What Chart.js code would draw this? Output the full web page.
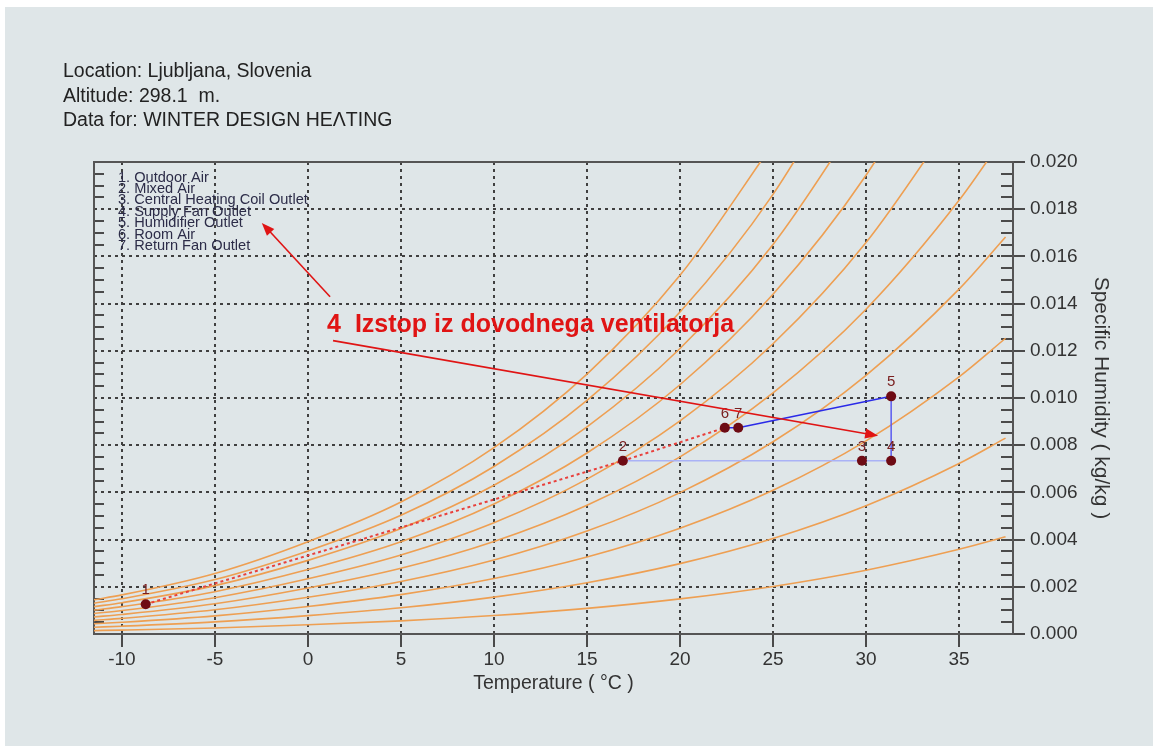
<!DOCTYPE html>
<html>
<head>
<meta charset="utf-8">
<title>Psychrometric chart - Ljubljana</title>
<script src="https://cdn.jsdelivr.net/npm/chart.js@4.4.0/dist/chart.umd.min.js"></script>
<style>
    html, body { margin: 0; padding: 0; background: #ffffff; }
    #chart { position: absolute; left: 0; top: 0; }
</style>
</head>
<body>
<canvas id="chart" width="1155" height="746"></canvas>
<script>
// Header lines above the plot
const headerLines = [
    'Location: Ljubljana, Slovenia',
    'Altitude: 298.1  m.',
    'Data for: WINTER DESIGN HE\u039BTING'
];

// Axis ticks
const tempTicks = [-10, -5, 0, 5, 10, 15, 20, 25, 30, 35];
const humTicks = [0, 0.002, 0.004, 0.006, 0.008, 0.010, 0.012, 0.014, 0.016, 0.018, 0.020];

// Relative humidity curves (10% ... 100%), specific humidity read at these temperatures
const curveTemps = [-11.5, -10, -5, 0, 5, 10, 15, 20, 25, 30, 35, 37.5];
const rh10 = [0.000145, 0.000166, 0.000256, 0.00039, 0.000555, 0.000781, 0.001084, 0.001487, 0.002016, 0.002704, 0.00359, 0.004122];
const rh20 = [0.000289, 0.000331, 0.000513, 0.00078, 0.001111, 0.001563, 0.002172, 0.002981, 0.004046, 0.005432, 0.007222, 0.008299];
const rh30 = [0.000434, 0.000497, 0.000769, 0.001167, 0.001668, 0.002348, 0.003264, 0.004482, 0.006088, 0.008184, 0.010896, 0.012532];
const rh40 = [0.000579, 0.000663, 0.001025, 0.001557, 0.002226, 0.003135, 0.00436, 0.005991, 0.008144, 0.01096, 0.014614, 0.016822];
const rh50 = [0.000724, 0.000829, 0.001281, 0.00195, 0.002785, 0.003923, 0.005459, 0.007507, 0.010214, 0.013761, 0.018375, 0.021171];
const rh60 = [0.000869, 0.000994, 0.001538, 0.002338, 0.003345, 0.004714, 0.006562, 0.00903, 0.012297, 0.016587, 0.022181];
const rh70 = [0.001014, 0.00116, 0.001794, 0.002729, 0.003906, 0.005506, 0.007669, 0.010561, 0.014394, 0.019438, 0.026033];
const rh80 = [0.001159, 0.001326, 0.00205, 0.00312, 0.004468, 0.006301, 0.00878, 0.012099, 0.016504, 0.022314];
const rh90 = [0.001304, 0.001491, 0.002307, 0.00352, 0.00503, 0.007098, 0.009896, 0.013644, 0.018629, 0.025216];
const rh100 = [0.001449, 0.001657, 0.002565, 0.003912, 0.005594, 0.007896, 0.011014, 0.015197, 0.020769];
const rhCurves = [rh10, rh20, rh30, rh40, rh50, rh60, rh70, rh80, rh90, rh100];

// Air states 1..7
const stateLabels = ['1', '2', '3', '4', '5', '6', '7'];
const stateTemp = [-8.72, 16.93, 29.78, 31.35, 31.35, 22.41, 23.13];
const stateHum = [0.00126, 0.00734, 0.00734, 0.00734, 0.01007, 0.00874, 0.00874];
const stateNames = [
    '1. Outdoor Air',
    '2. Mixed Air',
    '3. Central Heating Coil Outlet',
    '4. Supply Fan Outlet',
    '5. Humidifier Outlet',
    '6. Room Air',
    '7. Return Fan Outlet'
];

// Process paths (indices into the states)
const mixingPath = [0, 1, 5];
const heatingPath = [1, 2, 3];
const humidifierPath = [3, 4];
const roomPath = [4, 6];
const returnPath = [6, 5];

// Red annotation (data coordinates)
const noteText = '4  Izstop iz dovodnega ventilatorja';
const notePos = [1.03, 0.01281];
const noteArrows = [
    [[1.19, 0.01429], [-2.48, 0.01742]],
    [[1.35, 0.01243], [30.65, 0.0084]]
];

const FONT = "'Liberation Sans', Arial, sans-serif";

function pathData(path) {
    return path.map(i => ({ x: stateTemp[i], y: stateHum[i] }));
}

function drawArrow(ctx, x1, y1, x2, y2) {
    const a = Math.atan2(y2 - y1, x2 - x1);
    const len = 13, half = 5;
    ctx.beginPath();
    ctx.moveTo(x1, y1);
    ctx.lineTo(x2 - len * 0.7 * Math.cos(a), y2 - len * 0.7 * Math.sin(a));
    ctx.stroke();
    ctx.beginPath();
    ctx.moveTo(x2, y2);
    ctx.lineTo(x2 - len * Math.cos(a) + half * Math.sin(a), y2 - len * Math.sin(a) - half * Math.cos(a));
    ctx.lineTo(x2 - len * Math.cos(a) - half * Math.sin(a), y2 - len * Math.sin(a) + half * Math.cos(a));
    ctx.closePath();
    ctx.fill();
}

const backgroundPlugin = {
    id: 'panelBackground',
    beforeDraw(chart) {
        const ctx = chart.ctx;
        ctx.save();
        ctx.fillStyle = '#ffffff';
        ctx.fillRect(0, 0, chart.width, chart.height);
        ctx.fillStyle = '#dfe6e8';
        ctx.fillRect(5, 7, 1148, 739);

        ctx.fillStyle = '#222222';
        ctx.font = '19.5px ' + FONT;
        ctx.textBaseline = 'alphabetic';
        headerLines.forEach((t, i) => ctx.fillText(t, 63, 77 + i * 24.5));
        ctx.restore();
    }
};

// Dotted grid, frame and tick marks
const gridPlugin = {
    id: 'psychroGrid',
    beforeDatasetsDraw(chart) {
        const { ctx, chartArea: area, scales: { x, y } } = chart;
        ctx.save();
        ctx.strokeStyle = '#404040';
        ctx.lineWidth = 2;
        ctx.setLineDash([3, 4]);
        tempTicks.forEach(t => {
            const px = Math.round(x.getPixelForValue(t));
            ctx.beginPath();
            ctx.moveTo(px, area.top);
            ctx.lineTo(px, area.bottom);
            ctx.stroke();
        });
        humTicks.slice(1, -1).forEach(h => {
            const py = Math.round(y.getPixelForValue(h));
            ctx.beginPath();
            ctx.moveTo(area.left, py);
            ctx.lineTo(area.right, py);
            ctx.stroke();
        });
        ctx.setLineDash([]);

        // minor ticks every 0.0005 on both vertical axes
        ctx.strokeStyle = '#4a4a4a';
        for (let k = 0; k <= 40; k++) {
            const py = Math.round(y.getPixelForValue(k * 0.0005));
            if (k % 4 !== 0) {
                ctx.beginPath();
                ctx.moveTo(area.left, py);
                ctx.lineTo(area.left + 10, py);
                ctx.moveTo(area.right - 12, py);
                ctx.lineTo(area.right, py);
                ctx.stroke();
            } else {
                ctx.beginPath();
                ctx.moveTo(area.right - 12, py);
                ctx.lineTo(area.right + 12, py);
                ctx.stroke();
            }
        }
        // bottom ticks
        tempTicks.forEach(t => {
            const px = Math.round(x.getPixelForValue(t));
            ctx.beginPath();
            ctx.moveTo(px, area.bottom);
            ctx.lineTo(px, area.bottom + 13);
            ctx.stroke();
        });

        // frame
        ctx.strokeStyle = '#555555';
        ctx.strokeRect(area.left, area.top, area.right - area.left, area.bottom - area.top);
        ctx.restore();
    },
    afterDatasetsDraw(chart) {
        const { ctx, chartArea: area, scales: { x, y } } = chart;
        ctx.save();

        // state list in the corner
        ctx.fillStyle = '#2c2c48';
        ctx.font = '14.6px ' + FONT;
        ctx.textBaseline = 'middle';
        stateNames.forEach((t, i) => ctx.fillText(t, area.left + 24, 177.5 + i * 11.4));

        // point numbers
        const meta = chart.getDatasetMeta(chart.data.datasets.length - 1);
        ctx.fillStyle = '#7a2020';
        ctx.font = '15px ' + FONT;
        ctx.textAlign = 'center';
        ctx.textBaseline = 'middle';
        meta.data.forEach((pt, i) => ctx.fillText(stateLabels[i], pt.x, pt.y - 14));

        // annotation
        ctx.fillStyle = '#e01414';
        ctx.strokeStyle = '#e01414';
        ctx.lineWidth = 1.6;
        ctx.font = 'bold 25px ' + FONT;
        ctx.textAlign = 'left';
        ctx.textBaseline = 'alphabetic';
        ctx.fillText(noteText, x.getPixelForValue(notePos[0]), y.getPixelForValue(notePos[1]));
        noteArrows.forEach(([from, to]) => {
            drawArrow(ctx,
                x.getPixelForValue(from[0]), y.getPixelForValue(from[1]),
                x.getPixelForValue(to[0]), y.getPixelForValue(to[1]));
        });
        ctx.restore();
    }
};

const curveSets = rhCurves.map(ys => ({
    data: ys.map((v, i) => ({ x: curveTemps[i], y: v })),
    showLine: true,
    pointRadius: 0,
    borderColor: '#ee9f52',
    borderWidth: 1.6,
    cubicInterpolationMode: 'monotone',
    order: 3
}));

const processSets = [
    { data: pathData(mixingPath), borderColor: '#e8403c', borderDash: [3, 3], borderWidth: 2 },
    { data: pathData(heatingPath), borderColor: '#aab2f6', borderWidth: 1.5 },
    { data: pathData(humidifierPath), borderColor: '#5a5af0', borderWidth: 1.5 },
    { data: pathData(roomPath), borderColor: '#2a2ae8', borderWidth: 1.5 },
    { data: pathData(returnPath), borderColor: '#2a2ae8', borderWidth: 1.5 }
].map(d => Object.assign(d, { showLine: true, pointRadius: 0, tension: 0, order: 2 }));

const stateSet = {
    data: stateTemp.map((t, i) => ({ x: t, y: stateHum[i] })),
    showLine: false,
    pointRadius: 5,
    pointBackgroundColor: '#6e0b14',
    pointBorderColor: '#6e0b14',
    pointBorderWidth: 0,
    order: 1
};

const chart = new Chart(document.getElementById('chart'), {
    type: 'scatter',
    data: { datasets: [...curveSets, ...processSets, stateSet] },
    options: {
        responsive: false,
        animation: false,
        events: [],
        layout: { padding: { left: 94, top: 162, right: 0, bottom: 0 } },
        plugins: { legend: { display: false }, tooltip: { enabled: false } },
        scales: {
            x: {
                type: 'linear',
                min: -11.5,
                max: 37.9,
                grid: { display: false, drawTicks: false },
                border: { display: false },
                afterBuildTicks: s => { s.ticks = tempTicks.map(v => ({ value: v })); },
                afterFit: s => { s.height = 746 - 634; },
                ticks: {
                    padding: 14,
                    color: '#333333',
                    font: { family: FONT, size: 19 },
                    maxRotation: 0,
                    callback: v => String(v)
                },
                title: {
                    display: true,
                    text: 'Temperature ( \u00B0C )',
                    color: '#333333',
                    font: { family: FONT, size: 19.5 },
                    padding: { top: 0, bottom: 51 }
                }
            },
            y: {
                type: 'linear',
                position: 'right',
                min: 0,
                max: 0.02,
                grid: { display: false, drawTicks: false },
                border: { display: false },
                afterBuildTicks: s => { s.ticks = humTicks.map(v => ({ value: v })); },
                afterFit: s => { s.width = 1155 - 1013; },
                ticks: {
                    padding: 17,
                    color: '#333333',
                    font: { family: FONT, size: 19 },
                    callback: v => v.toFixed(3)
                },
                title: {
                    display: true,
                    text: 'Specific Humidity ( kg/kg )',
                    color: '#333333',
                    font: { family: FONT, size: 21 },
                    padding: { top: 42, bottom: 0 }
                }
            }
        }
    },
    plugins: [backgroundPlugin, gridPlugin]
});
</script>
</body>
</html>
